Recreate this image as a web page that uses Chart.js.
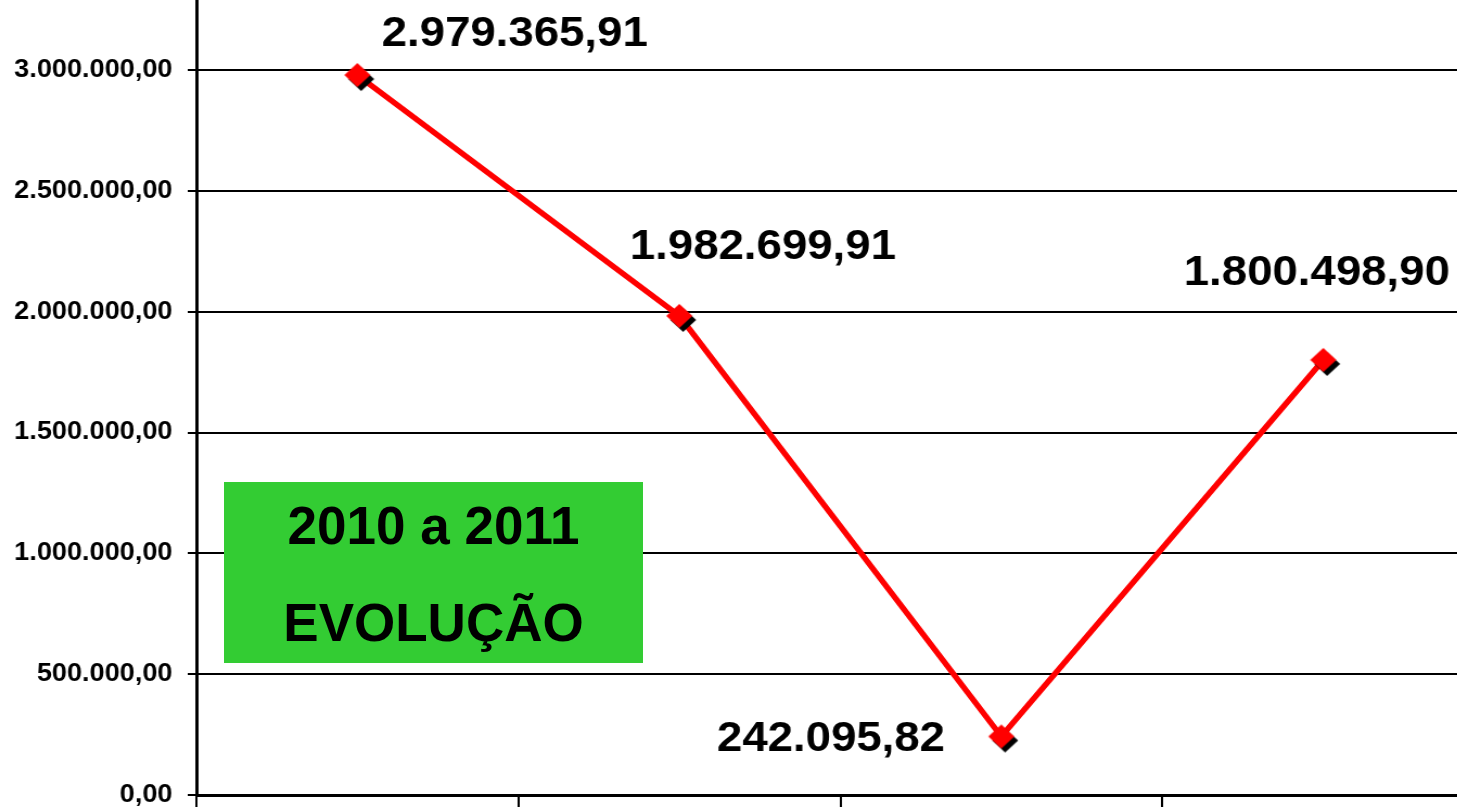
<!DOCTYPE html>
<html>
<head>
<meta charset="utf-8">
<script src="https://cdn.jsdelivr.net/npm/chart.js@4.4.0/dist/chart.umd.min.js"></script>
<style>
html,body{margin:0;padding:0;overflow:hidden;background:#fff;width:1457px;height:807px;}
#wrap{position:absolute;left:0;top:0;width:1368px;height:807px;transform:scaleX(1.085);transform-origin:0 0;}
#box{position:absolute;left:224px;top:482px;width:419px;height:181px;background:#33cc33;
  font-family:"Liberation Sans",Arial,sans-serif;font-weight:bold;font-size:53px;color:#000;}
#box div{position:absolute;left:0;right:0;text-align:center;line-height:60px;height:60px;white-space:nowrap;}
</style>
</head>
<body>
<div id="wrap"><canvas id="c" width="1368" height="807"></canvas></div>
<div id="box"><div style="top:14px">2010 a 2011</div><div style="top:111px">EVOLUÇÃO</div></div>
<script>
// ---- data ----
const categories = ["1", "2", "3", "4"];
const values = [2979365.91, 1982699.91, 242095.82, 1800498.90];
const yTicks = [0, 500000, 1000000, 1500000, 2000000, 2500000, 3000000];
const yMin = 0;
const yMax = 3290000;

// ---- helpers ----
function fmtBR(v){
  const neg = v < 0; v = Math.abs(v);
  let [i, d] = v.toFixed(2).split('.');
  i = i.replace(/\B(?=(\d{3})+(?!\d))/g, '.');
  return (neg ? '-' : '') + i + ',' + d;
}
function makeMarker(){
  const c = document.createElement('canvas');
  c.width = 42; c.height = 42;
  const g = c.getContext('2d');
  function dia(cx, cy, r, col){
    g.beginPath(); g.moveTo(cx, cy - r); g.lineTo(cx + r, cy); g.lineTo(cx, cy + r); g.lineTo(cx - r, cy);
    g.closePath(); g.fillStyle = col; g.fill();
  }
  dia(24.5, 25, 12, '#000000');
  dia(21, 21, 12, '#ff0000');
  return c;
}
const FONT = '"Liberation Sans", Arial, Helvetica, sans-serif';
const LABEL_OFFSETS = [[145, -41], [77, -68], [-157, 3], [-6, -87]];

const labelPlugin = {
  id: 'valueLabels',
  afterDatasetsDraw(chart){
    const ctx = chart.ctx;
    const meta = chart.getDatasetMeta(0);
    ctx.save();
    ctx.font = 'bold 42px ' + FONT;
    ctx.fillStyle = '#000';
    ctx.textAlign = 'center';
    ctx.textBaseline = 'middle';
    meta.data.forEach((pt, i) => {
      const o = LABEL_OFFSETS[i];
      ctx.fillText(fmtBR(values[i]), pt.x + o[0], pt.y + o[1]);
    });
    ctx.restore();
  }
};

new Chart(document.getElementById('c'), {
  type: 'line',
  data: {
    labels: categories,
    datasets: [{
      data: values,
      borderColor: '#ff0000',
      borderWidth: 5.5,
      tension: 0,
      fill: false,
      pointStyle: makeMarker(),
      pointRadius: 12,
      clip: false
    }]
  },
  options: {
    responsive: false,
    animation: false,
    devicePixelRatio: 1,
    layout: { padding: 0, autoPadding: false },
    plugins: { legend: { display: false }, tooltip: { enabled: false } },
    scales: {
      x: {
        offset: true,
        grid: { offset: true, drawOnChartArea: false, drawTicks: true, tickLength: 12, color: '#000', lineWidth: 2 },
        border: { display: true, color: '#000', width: 3 },
        ticks: { display: false }
      },
      y: {
        min: yMin,
        max: yMax,
        afterBuildTicks(s){ s.ticks = yTicks.map(v => ({ value: v })); },
        afterFit(s){ s.width = 181; s.paddingTop = 0; s.paddingBottom = 0; },
        grid: { color: '#000', lineWidth: 2, drawTicks: true, tickLength: 8 },
        border: { display: true, color: '#000', width: 3 },
        ticks: {
          color: '#000',
          padding: 14,
          font: { family: FONT, size: 25, weight: 'bold' },
          callback: v => fmtBR(v)
        }
      }
    }
  },
  plugins: [labelPlugin]
});
</script>
</body>
</html>
